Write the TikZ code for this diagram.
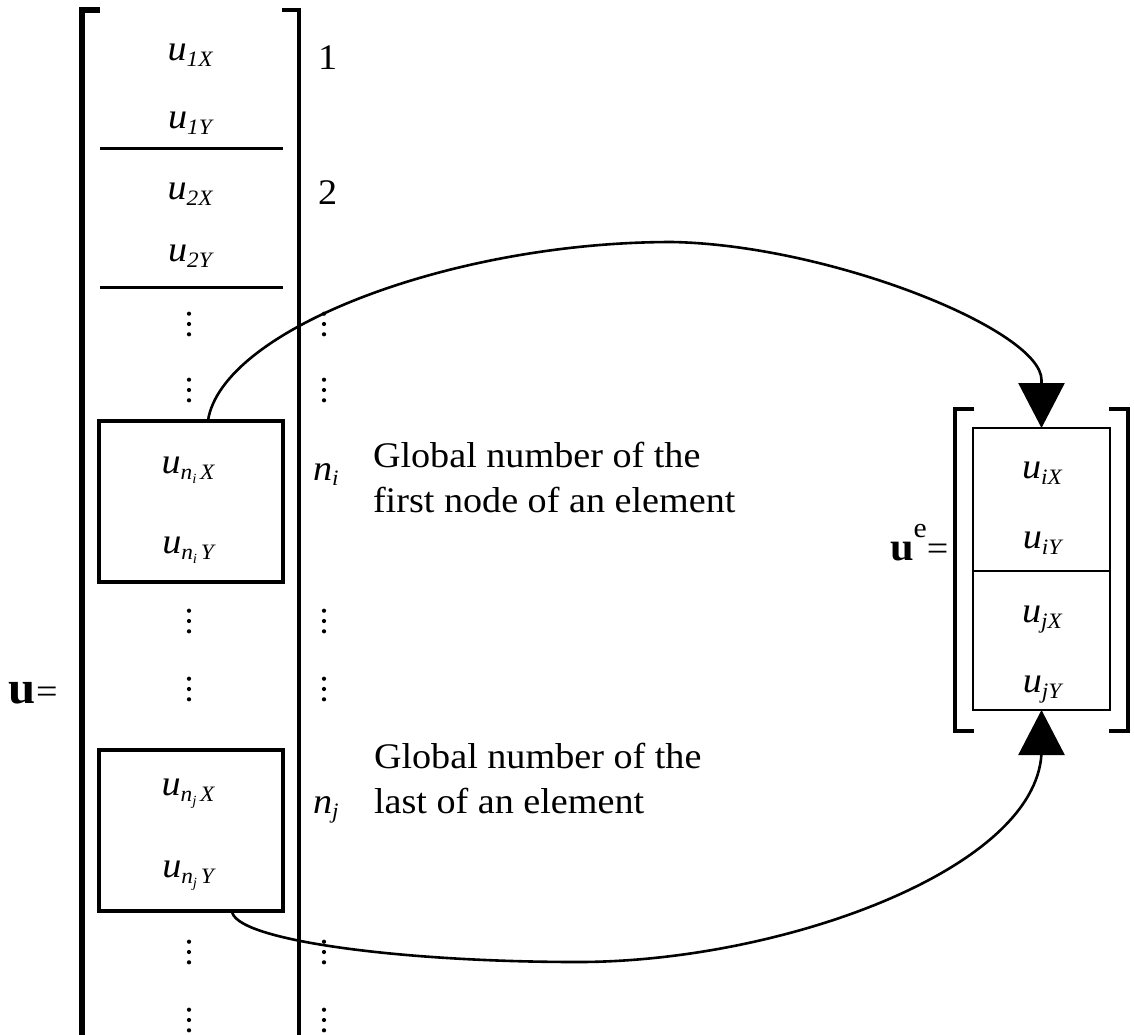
\documentclass[tikz,border=0pt]{standalone}
\usepackage{fontspec}
\setmainfont{Liberation Serif}[FakeStretch=1.06]
\usetikzlibrary{arrows.meta}

% italic u with a subscript
\newcommand\uvec[1]{{\fontsize{36}{36}\selectfont\itshape u\raisebox{-6pt}{\fontsize{22}{22}\selectfont #1}}}
% n with a second-level index
\newcommand\nsub[1]{n\raisebox{-4pt}{\fontsize{14}{14}\selectfont #1}}
% node number label n_i / n_j
\newcommand\nlab[1]{{\itshape n\raisebox{-5pt}{\fontsize{22}{22}\selectfont #1}}}

\tikzset{
  every node/.style={inner sep=0pt, outer sep=0pt, font=\fontsize{36}{40}\selectfont},
  entry/.style={anchor=base},
  label text/.style={anchor=base west},
  bigbracket/.style={line width=5.5pt, line join=miter},
  thinbracket/.style={line width=4.5pt, line join=miter},
  divider/.style={line width=3pt},
  groupbox/.style={draw, line width=4pt, minimum width=184pt, minimum height=161pt},
  elembox/.style={draw, line width=2.5pt, minimum width=137pt, minimum height=282pt},
  link/.style={line width=2.6pt, -{Triangle[length=45pt, width=46pt]}},
}

% a vertical ellipsis drawn as three dots
\newcommand\vdts[2]{\foreach \dy in {-10.3,0,10.3} {\fill (#1,#2+\dy) circle (2.1pt);}}

\begin{document}
\begin{tikzpicture}[x=1pt, y=-1pt]
\path[use as bounding box, clip] (0,0) rectangle (1134,1034);

% ---- global displacement vector u ----
\draw[bigbracket] (100,10) -- (82,10) -- (82,1045);
\draw[thinbracket] (282,10) -- (299,10) -- (299,1045);
\draw[divider] (100,148) -- (283,148);
\draw[divider] (100,287) -- (283,287);

\node[entry] (u1x) at (190,60) {\uvec{1X}};
\node[entry] (u1y) at (190,128) {\uvec{1Y}};
\node[entry] (u2x) at (190,199) {\uvec{2X}};
\node[entry] (u2y) at (190,261) {\uvec{2Y}};

\node[label text] (k1) at (318,69) {1};
\node[label text] (k2) at (318,204) {2};

\node[label text] (ulbl) at (9,703) {{\fontsize{46}{46}\selectfont\bfseries u}=};

% block of the first node
\node[groupbox] (bni) at (191,501) {};
\node[entry] (unix) at (188,473) {\uvec{\nsub{i}\,X}};
\node[entry] (uniy) at (188,553) {\uvec{\nsub{i}\,Y}};
\node[label text] (ni) at (313,480) {\nlab{i}};
\node[label text] (t1a) at (373,467) {Global number of the};
\node[label text] (t1b) at (373,512) {first node of an element};

% block of the last node
\node[groupbox] (bnj) at (191,830) {};
\node[entry] (unjx) at (188,795) {\uvec{\nsub{j}\,X}};
\node[entry] (unjy) at (188,877) {\uvec{\nsub{j}\,Y}};
\node[label text] (nj) at (313,813) {\nlab{j}};
\node[label text] (t2a) at (374,768) {Global number of the};
\node[label text] (t2b) at (374,813) {last of an element};

% omitted rows
\vdts{189}{324} \vdts{324}{324}
\vdts{189}{390} \vdts{324}{390}
\vdts{189}{621} \vdts{324}{621}
\vdts{189}{689} \vdts{324}{689}
\vdts{189}{952} \vdts{324}{952}
\vdts{189}{1020} \vdts{324}{1020}

% ---- element displacement vector u^e ----
\draw[thinbracket] (974,409) -- (955,409) -- (955,731) -- (974,731);
\draw[thinbracket] (1109,409) -- (1128,409) -- (1128,731) -- (1109,731);
\node[elembox] (ue) at (1041.5,569) {};
\draw[line width=2.5pt] ([yshift=-2pt]ue.west) -- ([yshift=-2pt]ue.east);
\node[entry] (uix) at (1042,478) {\uvec{iX}};
\node[entry] (uiy) at (1042,548) {\uvec{iY}};
\node[entry] (ujx) at (1042,622) {\uvec{jX}};
\node[entry] (ujy) at (1042,692) {\uvec{jY}};
\node[label text] (uelbl) at (890,560) {{\fontsize{40}{40}\selectfont\bfseries u}\raisebox{23pt}{\fontsize{28}{28}\selectfont e}=};

% ---- assembly connectors ----
\draw[link] ([xshift=17pt]bni.north)
  .. controls (222,330) and (450,242) .. (672,242)
  .. controls (830,245) and (1041.5,330) .. (1041.5,380) -- (ue.north);
\draw[link] ([xshift=41pt]bnj.south)
  .. controls (232,940) and (400,962) .. (578,962)
  .. controls (780,962) and (1036,870) .. (1041.5,753) -- (ue.south);
\end{tikzpicture}
\end{document}
